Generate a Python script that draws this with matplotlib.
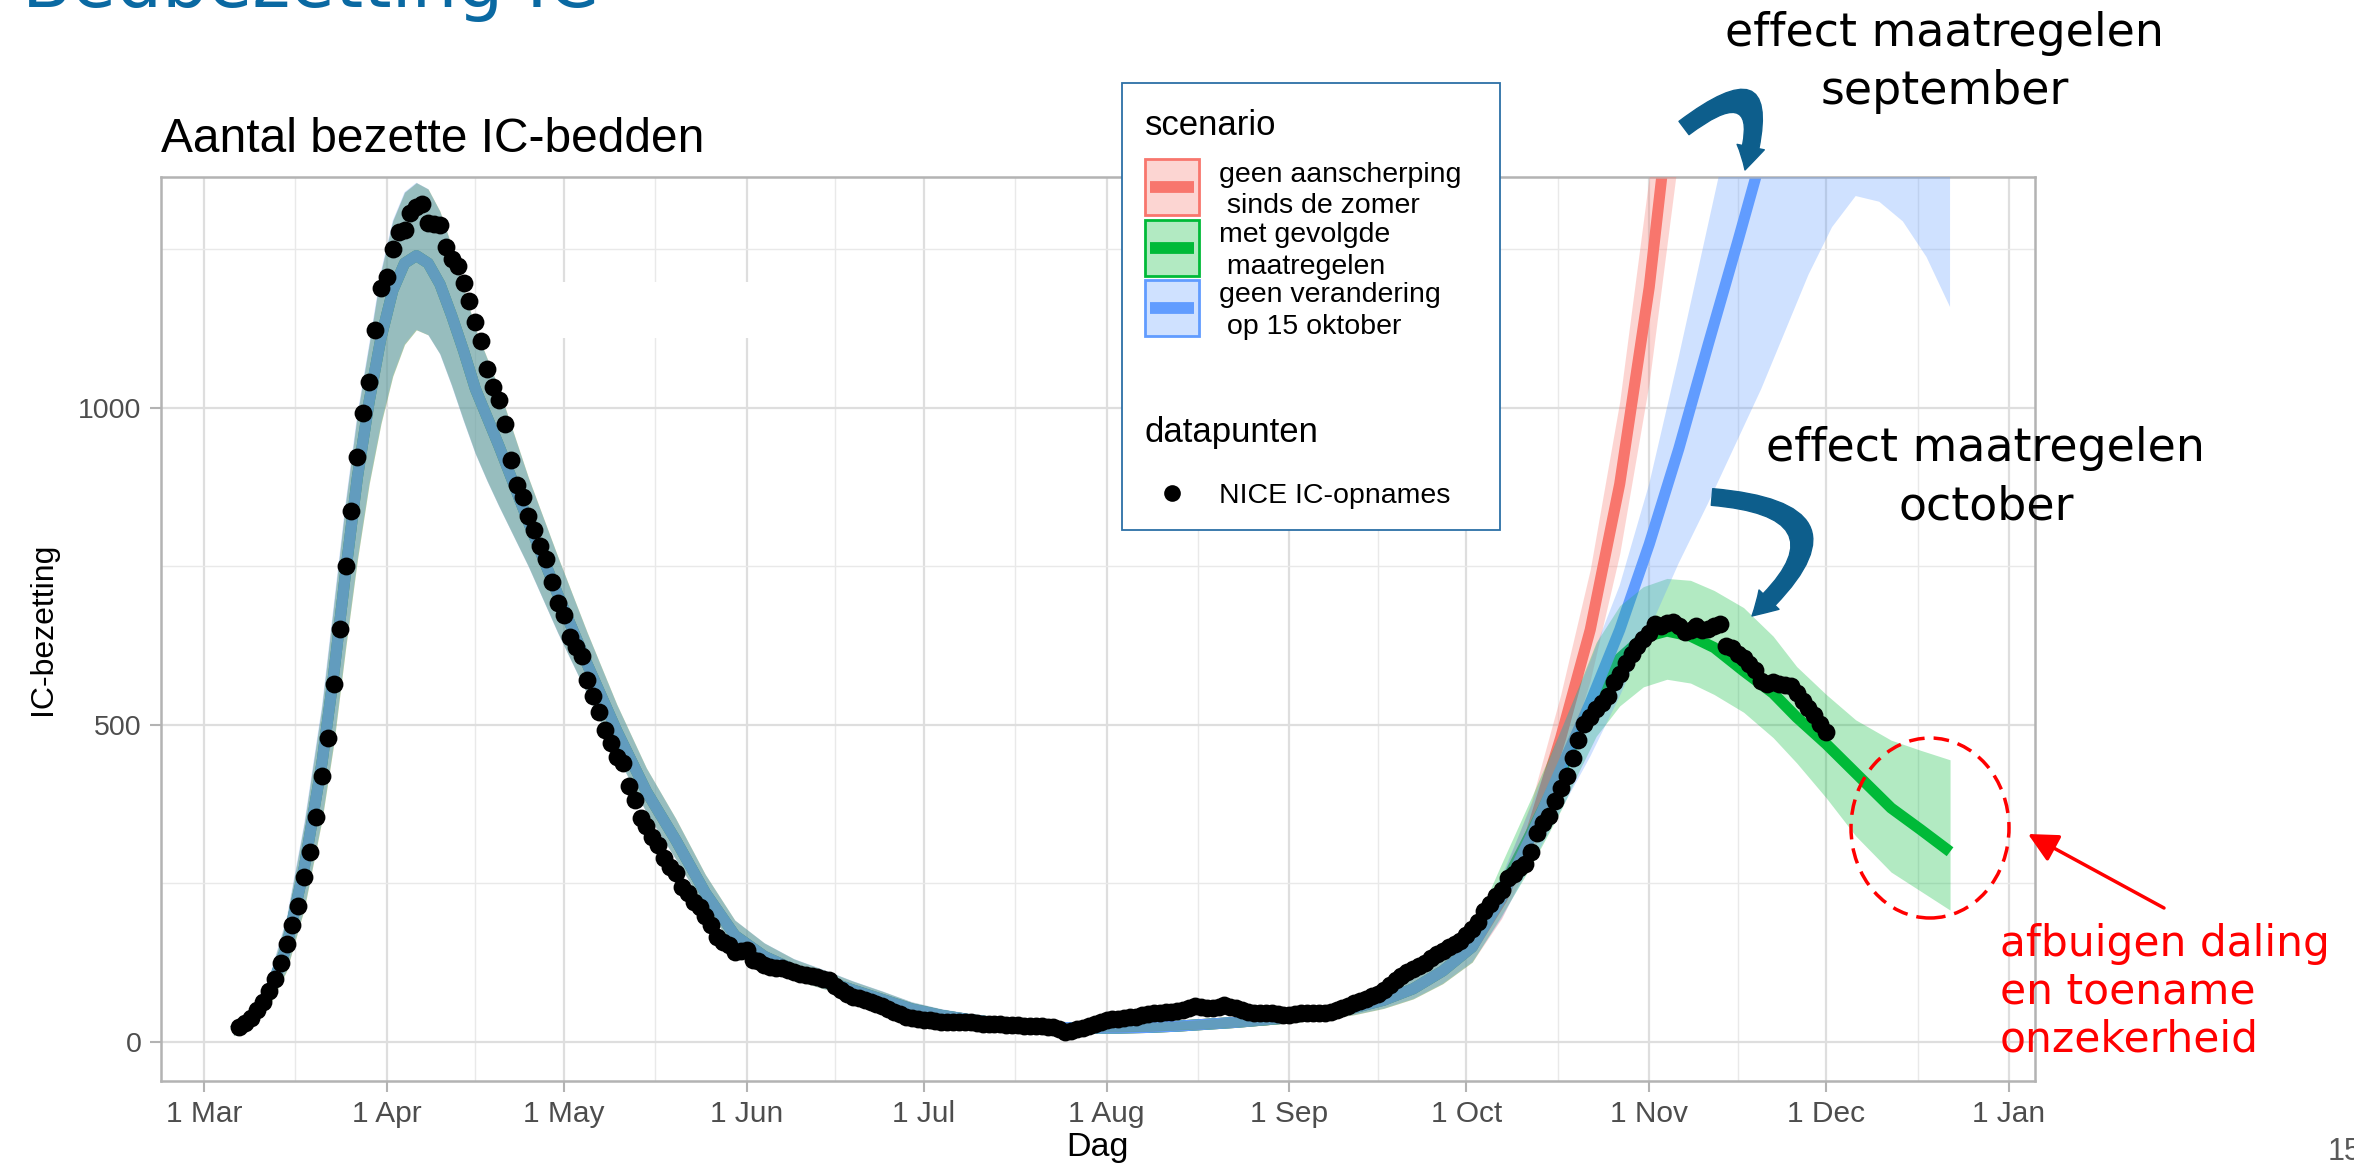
import numpy as np
import pandas as pd
import matplotlib
matplotlib.use("Agg")
import matplotlib.pyplot as plt
from matplotlib.patches import Rectangle, Ellipse, FancyArrowPatch
from matplotlib.lines import Line2D

W, H = 2354, 1167

# NICE IC occupancy, one value per day starting 7 March 2020
first_day = "2020-03-07"
ic_mar = [24, 30, 38, 50, 63, 80, 100, 125, 155, 185, 215, 260, 300, 355, 420,
          480, 565, 651, 751, 838, 923, 992, 1040, 1123, 1189]
ic_apr = [1206, 1250, 1278, 1280, 1307, 1317, 1321, 1291, 1290, 1289, 1253, 1234,
          1223, 1197, 1168, 1135, 1106, 1061, 1033, 1012, 974, 917, 878, 860, 829,
          808, 782, 761, 725, 692]
ic_may = [673, 639, 623, 608, 571, 545, 521, 492, 471, 450, 440, 403, 382, 353, 340,
          324, 311, 290, 276, 266, 245, 235, 221, 213, 198, 185, 166, 158, 153, 142, 144]
ic_jun = [145, 130, 127, 121, 119, 117, 116, 113, 111, 108, 106, 104, 103, 100, 98,
          88, 82, 76, 71, 69, 67, 63, 60, 56, 52, 48, 44, 40, 38, 36]
ic_jul = [35, 34, 33, 32, 32, 32, 32, 32, 32, 30, 29, 28, 28, 28, 27, 27, 27, 26, 26,
          25, 25, 24, 24, 20, 16, 18, 20, 22, 26, 29, 32]
ic_aug = [34, 36, 37, 38, 39, 40, 42, 44, 45, 46, 47, 48, 49, 50, 53, 56, 55, 54, 53,
          55, 58, 55, 53, 50, 47, 45, 45, 45, 45, 44, 43]
ic_sep = [43, 44, 45, 45, 45, 45, 45, 47, 50, 53, 57, 61, 64, 68, 72, 76, 82, 90, 98,
          104, 110, 115, 120, 125, 132, 138, 144, 150, 155, 160]
ic_oct = [168, 178, 190, 206, 218, 230, 240, 258, 265, 275, 280, 300, 330, 345, 356,
          380, 400, 420, 448, 476, 502, 512, 525, 535, 545, 568, 580, 597, 612, 624, 635]
ic_nov = [645, 659, 656, 660, 662, 656, 646, 650, 656, 650, 652, 656, 659, 625, 621,
          612, 605, 596, 586, 570, 565, 568, 565, 563, 561, 550, 538, 527, 515, 502]
ic_dec = [489]

# model fit shared by all scenarios (days since 1 March 2020)
fit_days = [5, 8, 11, 14, 17, 20, 22, 24, 26, 28, 30, 32, 34, 36, 38, 40, 42, 44, 46,
            48, 50, 55, 60, 65, 70, 75, 80, 85, 90, 95, 100, 105, 110, 115, 120, 125,
            130, 135, 140, 145, 150, 155, 160, 165, 170, 175, 180, 185, 190, 195, 200,
            205, 210, 215]
fit_mid = [17, 35, 75, 150, 275, 440, 580, 740, 890, 1010, 1110, 1185, 1228, 1240,
           1228, 1195, 1145, 1090, 1030, 985, 940, 820, 705, 595, 490, 395, 318, 235,
           168, 135, 114, 98, 82, 67, 52, 42, 35, 30, 26, 23, 22, 22, 23, 25, 28, 31,
           35, 39, 46, 54, 66, 84, 112, 150]
fit_lo = [10, 24, 55, 112, 210, 350, 470, 620, 760, 880, 975, 1050, 1100, 1123, 1115,
          1085, 1035, 980, 928, 885, 845, 750, 645, 548, 452, 362, 288, 212, 150, 118,
          98, 84, 70, 56, 43, 34, 28, 24, 20, 17, 16, 16, 17, 19, 21, 24, 27, 31, 36,
          43, 53, 68, 92, 126]
fit_hi = [25, 48, 100, 195, 345, 530, 690, 850, 990, 1100, 1215, 1295, 1340, 1355,
          1345, 1310, 1255, 1190, 1125, 1078, 1030, 890, 765, 645, 532, 432, 352, 264,
          192, 156, 131, 114, 96, 80, 63, 52, 44, 38, 34, 31, 30, 30, 31, 33, 36, 40,
          44, 49, 57, 67, 81, 102, 134, 176]

# scenario continuations from early October
red_days = [220, 225, 230, 235, 240, 245, 250]
red_mid = [225, 330, 480, 650, 880, 1190, 1600]
red_lo = [195, 290, 420, 570, 770, 1040, 1400]
red_hi = [260, 378, 548, 745, 1010, 1365, 1830]

green_days = [220, 225, 230, 233, 236, 240, 244, 248, 252, 256, 261, 266, 270, 275,
              280, 286, 291, 296]
green_mid = [240, 330, 425, 490, 550, 605, 638, 648, 640, 622, 585, 550, 512, 470,
             424, 369, 335, 300]
green_lo = [200, 278, 365, 425, 482, 530, 560, 572, 566, 548, 520, 480, 440, 385,
            325, 268, 238, 208]
green_hi = [282, 385, 492, 560, 630, 688, 718, 731, 728, 712, 685, 640, 592, 548,
            508, 476, 460, 445]

blue_line_days = [220, 225, 230, 235, 240, 245, 250, 255, 260, 264, 267]
blue_mid = [228, 325, 430, 535, 650, 785, 935, 1100, 1262, 1395, 1490]
blue_band_days = [220, 225, 230, 235, 240, 245, 250, 255, 260, 264, 268, 272, 276,
                  280, 284, 288, 292, 296]
blue_lo = [195, 280, 365, 450, 545, 650, 755, 850, 950, 1030, 1120, 1210, 1285, 1334,
           1325, 1294, 1238, 1159]
blue_hi = [262, 372, 490, 600, 720, 880, 1080, 1290, 1500, 1700, 1900, 2000, 2000,
           2000, 2000, 2000, 2000, 2000]

month_labels = ["1 Mar", "1 Apr", "1 May", "1 Jun", "1 Jul", "1 Aug", "1 Sep",
                "1 Oct", "1 Nov", "1 Dec", "1 Jan"]
scenario_labels = [("geen aanscherping", " sinds de zomer"),
                   ("met gevolgde", " maatregelen"),
                   ("geen verandering", " op 15 oktober")]

RED, GREEN, BLUE = "#F8766D", "#00BA38", "#619CFF"
SANS = "Liberation Sans"
ANN = "DejaVu Sans"


def fx(x):
    return x / W


def fy(y):
    return 1 - y / H


origin = pd.Timestamp("2020-03-01")
ic_values = ic_mar + ic_apr + ic_may + ic_jun + ic_jul + ic_aug + ic_sep + ic_oct + ic_nov + ic_dec
ic_days = (pd.Timestamp(first_day) - origin).days + np.arange(len(ic_values))

scenarios = [
    (RED, fit_days + red_days, fit_mid + red_mid, fit_days + red_days, fit_lo + red_lo, fit_hi + red_hi),
    (GREEN, fit_days + green_days, fit_mid + green_mid, fit_days + green_days, fit_lo + green_lo, fit_hi + green_hi),
    (BLUE, fit_days + blue_line_days, fit_mid + blue_mid, fit_days + blue_band_days, fit_lo + blue_lo, fit_hi + blue_hi),
]

fig = plt.figure(figsize=(W / 100, H / 100), dpi=100)
panel_top, panel_bottom = 177, 1081
ax = fig.add_axes([fx(160.7), fy(panel_bottom), (2035 - 160.7) / W, (panel_bottom - panel_top) / H])

# lines underneath, ribbons on top (as in the original)
for color, ld, lv, bd, lo, hi in scenarios:
    ax.plot(ld, lv, color=color, lw=8, solid_capstyle="butt", solid_joinstyle="round", zorder=2)
for color, ld, lv, bd, lo, hi in scenarios:
    ax.fill_between(bd, lo, hi, color=color, alpha=0.3, lw=0, zorder=3)
ax.scatter(ic_days, ic_values, s=165, color="black", linewidths=0, zorder=4)

# white patch hiding part of the grid
ax.add_patch(Rectangle((fx(500), fy(338)), 260 / W, 56 / H, transform=fig.transFigure,
                       facecolor="white", edgecolor="none", zorder=1.5))

month_starts = pd.date_range("2020-03-01", "2021-01-01", freq="MS")
tick_days = np.asarray((month_starts - origin).days, dtype=float)
ax.set_xlim(-7.34, 310.4)
ax.set_ylim(-61.5, 1364)
ax.set_xticks(tick_days)
ax.set_xticklabels(month_labels)
ax.set_xticks((tick_days[:-1] + tick_days[1:]) / 2, minor=True)
ax.set_yticks([0, 500, 1000])
ax.set_yticks([250, 750, 1250], minor=True)
ax.grid(which="major", color="#DEDEDE", lw=1.6)
ax.grid(which="minor", color="#E9E9E9", lw=1.0)
ax.set_axisbelow(True)
ax.tick_params(which="minor", length=0)
ax.tick_params(which="major", length=8, width=1.5, color="#B3B3B3",
               labelcolor="#4D4D4D", pad=6)
ax.tick_params(axis="x", labelsize=21.5)
ax.tick_params(axis="y", labelsize=20.5)
for lab in ax.get_xticklabels() + ax.get_yticklabels():
    lab.set_fontfamily(SANS)
for s in ax.spines.values():
    s.set_color("#B3B3B3")
    s.set_linewidth(1.8)
ax.set_xlabel("Dag", fontsize=24.5, family=SANS, va="baseline")
ax.xaxis.set_label_coords(0.5, (panel_bottom - 1156) / (panel_bottom - panel_top))
ax.set_ylabel("IC-bezetting", fontsize=23, family=SANS, labelpad=14)

fig.text(fx(161), fy(152), "Aantal bezette IC-bedden", fontsize=34.5, family=SANS,
         va="baseline")

# legend box
fig.add_artist(Rectangle((fx(1122), fy(530)), 378 / W, 447 / H, transform=fig.transFigure,
                         facecolor="white", edgecolor="#2C6FA6", lw=1.3, zorder=5))
fig.text(fx(1145), fy(135), "scenario", fontsize=25, family=SANS, va="baseline", zorder=6)
for i, (color, (l1, l2)) in enumerate(zip([RED, GREEN, BLUE], scenario_labels)):
    top = 159 + i * 60.5
    fig.add_artist(Rectangle((fx(1145), fy(top + 56)), 54 / W, 56 / H, transform=fig.transFigure,
                             facecolor=color, alpha=0.3, edgecolor="none", zorder=6))
    fig.add_artist(Rectangle((fx(1145), fy(top + 56)), 54 / W, 56 / H, transform=fig.transFigure,
                             facecolor="none", edgecolor=color, lw=2, zorder=7))
    fig.add_artist(Line2D([fx(1150), fx(1194)], [fy(top + 28), fy(top + 28)], color=color,
                          lw=8.5, solid_capstyle="butt", zorder=7))
    fig.text(fx(1219), fy(top + 22.5), l1, fontsize=20.5, family=SANS, va="baseline", zorder=6)
    fig.text(fx(1219), fy(top + 54), l2, fontsize=20.5, family=SANS, va="baseline", zorder=6)
fig.text(fx(1145), fy(442), "datapunten", fontsize=25, family=SANS, va="baseline", zorder=6)
fig.add_artist(Line2D([fx(1172)], [fy(493)], marker="o", markersize=12, color="black",
                      markeredgewidth=0, zorder=7))
fig.text(fx(1219), fy(503), "NICE IC-opnames", fontsize=20.5, family=SANS, va="baseline", zorder=6)

# slide annotations
fig.text(fx(22), fy(7), "Bedbezetting IC", fontsize=52, family=ANN, color="#0A69A2",
         va="baseline")
fig.text(fx(1944), fy(46), "effect maatregelen", fontsize=33, family=ANN, ha="center", va="baseline")
fig.text(fx(1945), fy(104), "september", fontsize=33, family=ANN, ha="center", va="baseline")
fig.text(fx(1985), fy(461), "effect maatregelen", fontsize=33, family=ANN, ha="center",
         va="baseline", zorder=6)
fig.text(fx(1986), fy(520), "october", fontsize=33, family=ANN, ha="center", va="baseline", zorder=6)
for k, line in enumerate(["afbuigen daling", "en toename", "onzekerheid"]):
    fig.text(fx(2000), fy(956 + 48 * k), line, fontsize=30.5, family=ANN, color="red",
             va="baseline", zorder=6)
fig.text(fx(2328), fy(1160), "15", fontsize=22, family=SANS, color="#595959", va="baseline")

arrow_style = "simple,head_width=2.0,head_length=1.7,tail_width=1.2"
fig.add_artist(FancyArrowPatch((fx(1684), fy(128)), (fx(1745), fy(170)),
                               connectionstyle="arc3,rad=-1.5", arrowstyle=arrow_style,
                               mutation_scale=10, color="#0D5E8C", shrinkA=0, shrinkB=0,
                               transform=fig.transFigure, zorder=6))
fig.add_artist(FancyArrowPatch((fx(1712), fy(497)), (fx(1752), fy(616)),
                               connectionstyle="arc3,rad=-1.15", arrowstyle=arrow_style,
                               mutation_scale=10, color="#0D5E8C", shrinkA=0, shrinkB=0,
                               transform=fig.transFigure, zorder=6))
fig.add_artist(Ellipse((fx(1930), fy(828)), 158 / W, 180 / H, transform=fig.transFigure,
                       facecolor="none", edgecolor="red", lw=2.5,
                       linestyle=(0, (4.5, 2.6)), zorder=6))
fig.add_artist(FancyArrowPatch((fx(2164), fy(908)), (fx(2028), fy(834)),
                               arrowstyle="-|>,head_length=0.9,head_width=0.45",
                               mutation_scale=20, color="red", lw=2.5, shrinkA=0, shrinkB=0,
                               transform=fig.transFigure, zorder=6))

fig.savefig("out.png", dpi=100)
